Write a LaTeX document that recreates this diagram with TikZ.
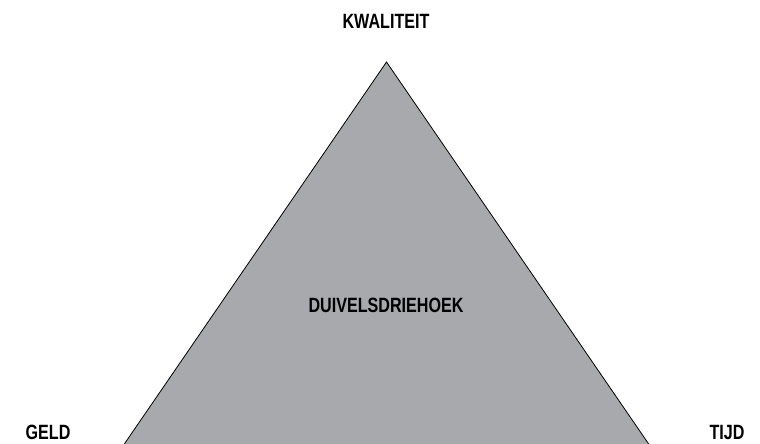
\documentclass[tikz,border=0pt]{standalone}
\usepackage{fontspec}
\setmainfont{Liberation Sans}[FakeStretch=0.78]
\usepackage{xcolor}
\definecolor{driegrijs}{HTML}{A7A9AC}
\tikzset{hoek/.style={font=\bfseries\fontsize{15.5}{18}\selectfont,inner sep=0pt,anchor=base}}

\begin{document}
\begin{tikzpicture}[x=0.75pt,y=-0.75pt]
      \useasboundingbox (0,0) rectangle (760,443);
      \clip (0,0) rectangle (760,443);
      \coordinate (top) at (386.5,62);
      \coordinate (links) at (120.2,450);
      \coordinate (rechts) at (652.8,450);
      \draw [fill=driegrijs,line width=0.6pt,line join=miter] (top) -- (rechts) -- (links) -- cycle;
      \node [hoek] (kwaliteit) at (386, 28) {KWALITEIT};
      \node [hoek] (midden) at (386, 312) {DUIVELSDRIEHOEK};
      \node [hoek] (geld) at (48, 439) {GELD};
      \node [hoek] (tijd) at (727, 439) {TIJD};
    \end{tikzpicture}
\end{document}
